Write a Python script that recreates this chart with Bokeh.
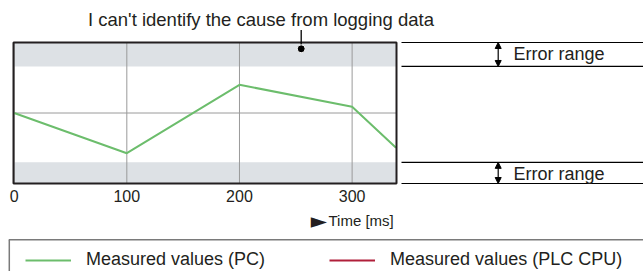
from bokeh.plotting import figure
from bokeh.models import (Range1d, Arrow, NormalHead, Legend, LegendItem, ColumnDataSource)
from bokeh.core.properties import value
from bokeh.embed import file_html
from bokeh.resources import INLINE

# ---------------- data ----------------
time_ms = [0, 100, 200, 300, 339]
pc_values = [50, 21.5, 70, 54.4, 25.3]
plc_time = [float("nan")]      # PLC CPU series: no visible samples in this view
plc_values = [float("nan")]
x_ticks = [0, 100, 200, 300]
tick_labels = ["0", "100", "200", "300"]
mid_level = [50]
error_bottom = [0, 83]
error_top = [15, 100]
title_text = "I can't identify the cause from logging data"
error_text = "Error range"
axis_mark = "\u25BA"
axis_text = "Time [ms]"
pc_label = "Measured values (PC)"
plc_label = "Measured values (PLC CPU)"

# ---------------- styling / layout ----------------
W, H = 643, 271
FONT = "Liberation Sans"
TXT = "#231f20"
GREEN = "#6cbd6c"
RED = "#b01f3a"
BAND = "#dde1e5"
GRID = "#9a9a9a"

# chart area on the canvas (pixels) and its data domain
FL, FR, FT, FB = 13, 396, 42, 183
T0, T1 = -0.6, 339.4
V0, V1 = 0, 100

kx = (FR - FL) / (T1 - T0)
ky = (FB - FT) / (V1 - V0)

p = figure(width=W, height=H, x_range=Range1d(0, W), y_range=Range1d(H, 0),
           min_border=0, min_border_left=0, min_border_right=0,
           min_border_top=0, min_border_bottom=0,
           toolbar_location=None, output_backend="svg", title=None,
           x_axis_location=None, y_axis_location=None)
p.xgrid.visible = False
p.ygrid.visible = False
p.outline_line_color = None
p.background_fill_color = "white"
p.border_fill_color = "white"

# data scales for the chart (time, value), mapped onto the canvas
p.extra_x_ranges = {"t": Range1d(T0 - FL / kx, T0 + (W - FL) / kx)}
p.extra_y_ranges = {"v": Range1d(V0 - (H - FB) / ky, V0 + FB / ky)}
TV = dict(x_range_name="t", y_range_name="v")


def txt(x, y, s, size, align="left", font=FONT, **kw):
    p.text(x=[x], y=[y], text=[s], text_align=align, text_baseline="middle",
           text_font=value(font), text_font_size=value(size), text_color=TXT, **kw)


# error bands
p.quad(left=T0, right=T1, bottom=error_bottom, top=error_top,
       fill_color=BAND, line_color=None, **TV)

# grid
p.segment(x0=x_ticks, y0=V0, x1=x_ticks, y1=V1, line_color=GRID, line_width=1, **TV)
p.segment(x0=T0, y0=mid_level, x1=T1, y1=mid_level, line_color=GRID, line_width=1, **TV)

# series
r_pc = p.line(time_ms, pc_values, line_color=GREEN, line_width=2, **TV)
r_plc = p.line(x="x", y="y", source=ColumnDataSource(dict(x=plc_time, y=plc_values)),
               line_color=RED, line_width=2, **TV)

# chart frame
p.quad(left=T0, right=T1, bottom=V0, top=V1, fill_color=None,
       line_color=TXT, line_width=2, **TV)

# tick labels
p.text(x=x_ticks, y=[195.5] * len(x_ticks), text=tick_labels, x_range_name="t",
       text_align="center", text_baseline="middle",
       text_font=value(FONT), text_font_size=value("16px"), text_color=TXT)

# axis caption
txt(326.5, 220.5, axis_mark, "21px", align="right", font="DejaVu Sans")
txt(328, 220.2, axis_text, "15px")

# title annotation with leader
txt(260.5, 18.8, title_text, "18.5px", align="center")
p.segment(x0=[300.7], y0=[29.5], x1=[300.7], y1=[48], line_color="black", line_width=1.3)
p.scatter([300.7], [48.3], size=8, fill_color="black", line_color="white", line_width=1)

# right-hand error range markers
levels = [error_top[1], error_bottom[1], error_top[0], error_bottom[0]]
p.segment(x0=401, y0=levels, x1=W, y1=levels, line_color="black", line_width=1.2,
          y_range_name="v")
for lo, hi, cy in ((error_bottom[1], error_top[1], 53.8), (error_bottom[0], error_top[0], 173.3)):
    p.add_layout(Arrow(x_start=497.7, x_end=497.7, y_start=lo, y_end=hi,
                       start=NormalHead(size=6, fill_color="black", line_color="black", line_width=1),
                       end=NormalHead(size=6, fill_color="black", line_color="black", line_width=1),
                       y_range_name="v", line_color="black", line_width=1.2))
    txt(513, cy, error_text, "18px")

# legend box (open at right and bottom, cut by the canvas)
p.segment(x0=[8.3], y0=[239.3], x1=[W], y1=[239.3], line_color="#7a7a7a", line_width=1.5)
p.segment(x0=[8.8], y0=[239.3], x1=[8.8], y1=[H], line_color="#7a7a7a", line_width=1.5)

legend = Legend(items=[LegendItem(label=pc_label, renderers=[r_pc]),
                       LegendItem(label=plc_label, renderers=[r_plc])],
                orientation="horizontal", location=(25, 1), padding=0, margin=0,
                spacing=64, glyph_width=46, glyph_height=20, label_standoff=15,
                label_text_font=FONT, label_text_font_size="18px", label_text_color=TXT,
                border_line_color=None, background_fill_alpha=0)
p.add_layout(legend)

open("out.html", "w").write(file_html(p, INLINE))
